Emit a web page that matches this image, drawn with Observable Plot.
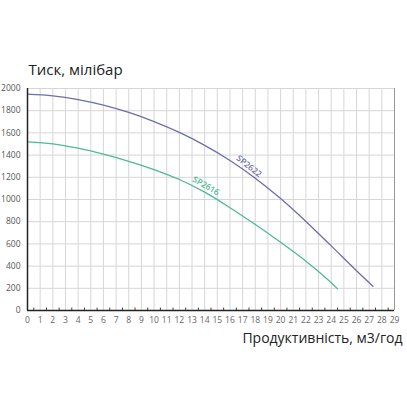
<!DOCTYPE html>
<html><head><meta charset="utf-8">
<script src="https://cdn.jsdelivr.net/npm/d3@7"></script>
<script src="https://cdn.jsdelivr.net/npm/@observablehq/plot@0.6"></script>
<style>body{margin:0;background:#fff;} svg{display:block;}</style>
</head><body><div id="chart"></div>
<script>
const xTicks = [0,1,2,3,4,5,6,7,8,9,10,11,12,13,14,15,16,17,18,19,20,21,22,23,24,25,26,27,28,29];
const yTicks = [0,200,400,600,800,1000,1200,1400,1600,1800,2000];
const sp2622Flow = [0,2,4,6,8,10,12,14,16,18,20,22,24,26,27.3];
const sp2622Pressure = [1950,1934,1900,1850,1784,1702,1604,1488,1352,1192,1008,802,582,358,218];
const sp2616Flow = [0,2,4,6,8,10,12,14,16,18,20,22,24,24.5];
const sp2616Pressure = [1520,1502,1462,1408,1344,1270,1180,1066,926,774,614,444,250,195];
const seriesNames = ["SP2622","SP2616"];
const seriesColors = ["#6b6fa9","#4cbb92"];
const labelPos = [{x:17.5,y:1300,r:38},{x:14.1,y:1122,r:30}];

const data = [
  ...sp2622Flow.map((f,i)=>({series:seriesNames[0],flow:f,p:sp2622Pressure[i]})),
  ...sp2616Flow.map((f,i)=>({series:seriesNames[1],flow:f,p:sp2616Pressure[i]}))
];
const labels = seriesNames.map((s,i)=>({series:s,x:labelPos[i].x,y:labelPos[i].y,r:labelPos[i].r}));
const minor = d3.range(0.5,29,1);

const chart = Plot.plot({
  width:407, height:407,
  marginTop:88, marginLeft:27, marginRight:13, marginBottom:97,
  style:{fontFamily:"'Open Sans', sans-serif", background:"#fff"},
  x:{type:"linear", domain:[0,29], label:null},
  y:{type:"linear", domain:[0,2000], label:null},
  color:{domain:seriesNames, range:seriesColors},
  marks:[
    Plot.ruleX(xTicks,{stroke:"#d6d6d6",strokeWidth:1}),
    Plot.ruleY(yTicks,{stroke:"#d6d6d6",strokeWidth:1}),
    Plot.ruleX([29],{stroke:"#999",strokeWidth:1}),
    Plot.ruleX(minor,{y1:0,y2:22,stroke:"#444",strokeWidth:1}),
    Plot.axisX({ticks:xTicks,tickSize:0,tickPadding:6,fontSize:8.5,fill:"#666",tickFormat:d=>String(d),label:null}),
    Plot.axisY({ticks:yTicks,tickSize:0,tickPadding:7,fontSize:8.5,fill:"#555",tickFormat:d=>String(d),label:null}),
    Plot.line(data,{x:"flow",y:"p",stroke:"series",z:"series",curve:"monotone-x",strokeWidth:1.3}),
    Plot.text(labels,{x:"x",y:"y",text:"series",rotate:"r",fill:"series",fontSize:8.5,fontWeight:600}),
    Plot.ruleX([0],{stroke:"#222",strokeWidth:1.5}),
    Plot.ruleY([0],{stroke:"#222",strokeWidth:1.5}),
    Plot.text(["Тиск, мілібар"],{frameAnchor:"top-left",dy:-24,dx:1,fontSize:15,fill:"#222",textAnchor:"start"}),
    Plot.text(["Продуктивність, м3/год"],{frameAnchor:"bottom-right",dy:32,dx:8,fontSize:14,fill:"#222",textAnchor:"end"})
  ]
});
document.getElementById("chart").append(chart);
</script></body></html>
